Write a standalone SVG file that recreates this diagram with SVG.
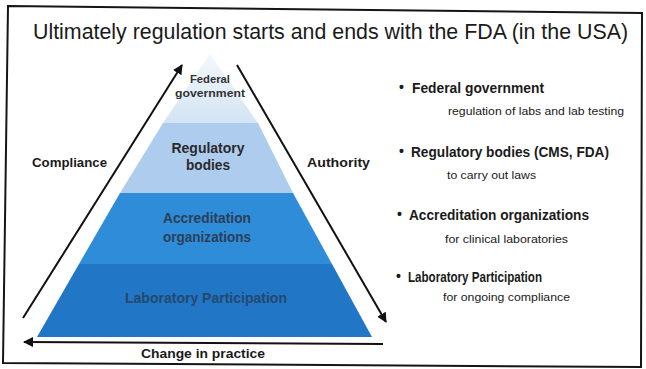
<svg xmlns="http://www.w3.org/2000/svg" width="646" height="369" viewBox="0 0 646 369">
  <defs>
    <linearGradient id="topFade" x1="0" y1="0" x2="0" y2="1">
      <stop offset="0" stop-color="#f3f8fc"/>
      <stop offset="1" stop-color="#d3e4f4"/>
    </linearGradient>
    <marker id="arrow" viewBox="0 0 10 10" refX="9" refY="5" markerWidth="10" markerHeight="10" markerUnits="userSpaceOnUse" orient="auto">
      <path d="M0,0 L10,5 L0,10 Z" fill="#111"/>
    </marker>
  </defs>
  <style>
    .frame { fill: #ffffff; stroke: #151515; stroke-width: 2; }
    .conn { stroke: #111; stroke-width: 2; fill: none; marker-end: url(#arrow); }
    .title { font-family: "Liberation Sans", Arial, sans-serif; font-size: 23px; fill: #1a1a1a; }
    .side { font-family: "Liberation Sans", Arial, sans-serif; font-size: 13px; font-weight: bold; fill: #1a1a1a; }
    .lvl { font-family: "Liberation Sans", Arial, sans-serif; font-weight: bold; text-anchor: middle; }
    .head { font-family: "Liberation Sans", Arial, sans-serif; font-size: 14px; font-weight: bold; fill: #1a1a1a; }
    .sub { font-family: "Liberation Sans", Arial, sans-serif; font-size: 11px; fill: #1a1a1a; }
  </style>

  <!-- slide frame -->
  <polygon class="frame" points="8,6 642,13 641,367 3,363"/>

  <!-- heading, condensed horizontally -->
  <text class="title" transform="translate(33,39) scale(0.93,1)" x="0" y="0">Ultimately regulation starts and ends with the FDA (in the USA)</text>

  <!-- pyramid levels -->
  <g id="federal-government">
    <polygon points="210,54 258,123 163,123" fill="url(#topFade)"/>
    <text class="lvl" x="210" y="83" font-size="11" fill="#333" textLength="40" lengthAdjust="spacingAndGlyphs">Federal</text>
    <text class="lvl" x="210" y="97" font-size="11" fill="#333" textLength="70" lengthAdjust="spacingAndGlyphs">government</text>
  </g>
  <g id="regulatory-bodies">
    <polygon points="163,123 258,123 293,193 120,193" fill="#aecdee"/>
    <text class="lvl" x="208" y="153" font-size="14" fill="#2a2a2a" textLength="73" lengthAdjust="spacingAndGlyphs">Regulatory</text>
    <text class="lvl" x="208" y="170" font-size="14" fill="#2a2a2a" textLength="44" lengthAdjust="spacingAndGlyphs">bodies</text>
  </g>
  <g id="accreditation-organizations">
    <polygon points="120,193 293,193 332,264 79,264" fill="#2e8cd8"/>
    <text class="lvl" x="207" y="223" font-size="14" fill="#2c3f57" textLength="88" lengthAdjust="spacingAndGlyphs">Accreditation</text>
    <text class="lvl" x="207" y="242" font-size="14" fill="#2c3f57" textLength="88" lengthAdjust="spacingAndGlyphs">organizations</text>
  </g>
  <g id="laboratory-participation">
    <polygon points="79,264 332,264 372,337 37,337" fill="#2176c6"/>
    <text class="lvl" x="206" y="303" font-size="14" fill="#24496f" textLength="162" lengthAdjust="spacingAndGlyphs">Laboratory Participation</text>
  </g>

  <!-- arrows around the pyramid -->
  <g id="connectors">
    <line class="conn" x1="23" y1="318" x2="182" y2="65"/>
    <line class="conn" x1="237" y1="65" x2="386" y2="322"/>
    <line class="conn" x1="383" y1="344" x2="24" y2="342"/>
  </g>

  <g id="compliance">
    <text class="side" x="32" y="167" textLength="75" lengthAdjust="spacingAndGlyphs">Compliance</text>
  </g>
  <g id="authority">
    <text class="side" x="307" y="167" textLength="63" lengthAdjust="spacingAndGlyphs">Authority</text>
  </g>
  <g id="change-in-practice">
    <text class="side" x="203" y="358" text-anchor="middle" textLength="124" lengthAdjust="spacingAndGlyphs">Change in practice</text>
  </g>

  <!-- bullet notes -->
  <g id="note-federal">
    <text class="head" x="399" y="92">•</text>
    <text class="head" x="412" y="93" textLength="132" lengthAdjust="spacingAndGlyphs">Federal government</text>
    <text class="sub" x="448" y="115" textLength="176" lengthAdjust="spacingAndGlyphs">regulation of labs and lab testing</text>
  </g>
  <g id="note-regulatory">
    <text class="head" x="399" y="156">•</text>
    <text class="head" x="411" y="157" textLength="198" lengthAdjust="spacingAndGlyphs">Regulatory bodies (CMS, FDA)</text>
    <text class="sub" x="447" y="179" textLength="89" lengthAdjust="spacingAndGlyphs">to carry out laws</text>
  </g>
  <g id="note-accreditation">
    <text class="head" x="397" y="219">•</text>
    <text class="head" x="409" y="220" textLength="180" lengthAdjust="spacingAndGlyphs">Accreditation organizations</text>
    <text class="sub" x="445" y="243" textLength="123" lengthAdjust="spacingAndGlyphs">for clinical laboratories</text>
  </g>
  <g id="note-laboratory">
    <text class="head" x="396" y="281" font-size="12">•</text>
    <text class="head" x="408" y="282" font-size="12" textLength="134" lengthAdjust="spacingAndGlyphs">Laboratory Participation</text>
    <text class="sub" x="443" y="301" textLength="127" lengthAdjust="spacingAndGlyphs">for ongoing compliance</text>
  </g>
</svg>
